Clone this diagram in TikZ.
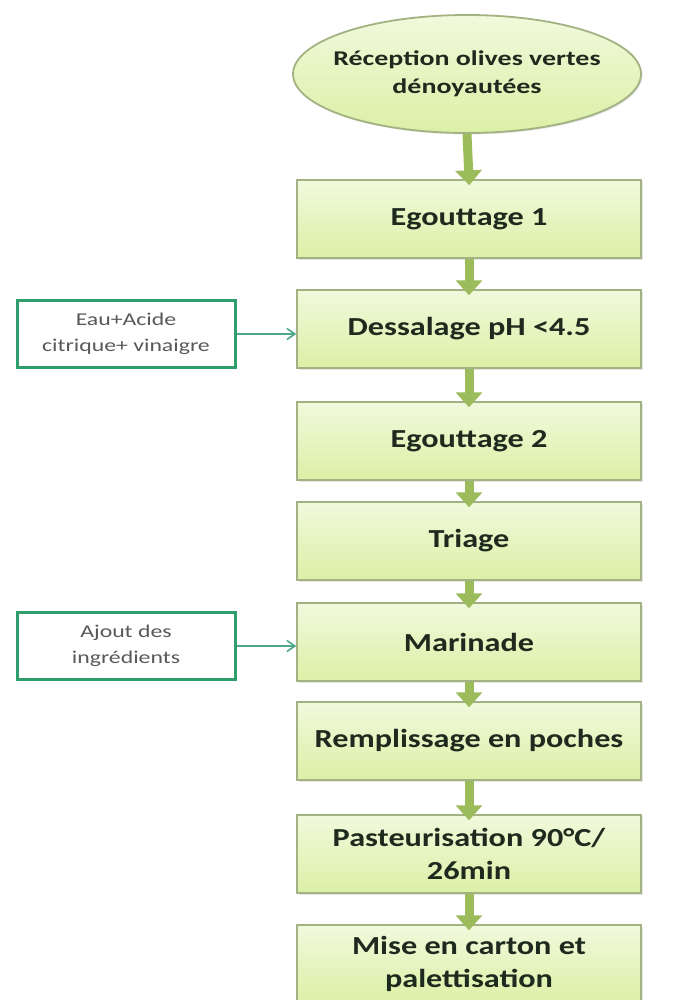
\documentclass[tikz,border=0pt]{standalone}
\usepackage{fontspec}
\setmainfont{Carlito}
\newfontfamily\widefont[FakeStretch=1.24]{Carlito}
\newfontfamily\ellfont[FakeStretch=1.33]{Carlito}
\newfontfamily\sidefont[FakeStretch=1.32]{Carlito}
\usepackage{xcolor}
\usepackage{tikz}
\usetikzlibrary{arrows.meta,positioning,shapes.geometric,shadows}

\definecolor{boxtop}{HTML}{F1F9DC}
\definecolor{boxbot}{HTML}{DBF0A6}
\definecolor{boxline}{HTML}{A3B283}
\definecolor{flowgreen}{HTML}{9CBC5C}
\definecolor{inputline}{HTML}{2F9E6C}
\definecolor{inputarrow}{HTML}{4FA88C}
\definecolor{inktext}{HTML}{1E2A1E}

\tikzset{
  stepbox/.style={draw=boxline, line width=1.4pt, top color=boxtop, bottom color=boxbot,
    minimum width=344pt, minimum height=78pt, align=center, text=inktext,
    font=\widefont\bfseries\fontsize{26}{33}\selectfont,
    drop shadow={opacity=0.2, shadow xshift=1.5pt, shadow yshift=-1.5pt}},
  startell/.style={ellipse, draw=boxline, line width=1.8pt, top color=boxtop, bottom color=boxbot,
    minimum width=348pt, minimum height=118pt, inner xsep=-16pt, inner ysep=0pt,
    align=center, text=inktext,
    font=\ellfont\bfseries\fontsize{21}{28}\selectfont,
    drop shadow={opacity=0.2, shadow xshift=1.5pt, shadow yshift=-1.5pt}},
  inputbox/.style={draw=inputline, line width=3pt, fill=white,
    minimum width=218pt, minimum height=67pt, align=center, text=black!65,
    font=\sidefont\fontsize{18}{26}\selectfont},
  flow/.style={line width=9pt, flowgreen, -{Triangle[width=26pt,length=15pt]}, shorten >=-6pt},
  feed/.style={line width=1.6pt, inputarrow, -{Straight Barb[width=11pt,length=8pt]}}
}

\begin{document}
\begin{tikzpicture}[x=1pt,y=-1pt]
    \useasboundingbox (0,0) rectangle (696,1000);

    % Main chain
    \node[startell] (recep) at (467,74) {Réception olives vertes\\dénoyautées};
    \node[stepbox] (egout1) at (469,219) {Egouttage 1};
    \node[stepbox] (dessal) at (469,329) {Dessalage pH <4.5};
    \node[stepbox] (egout2) at (469,441) {Egouttage 2};
    \node[stepbox] (triage) at (469,541) {Triage};
    \node[stepbox] (marin) at (469,642) {Marinade};
    \node[stepbox] (rempl) at (469,741) {Remplissage en poches};
    \node[stepbox] (pasteur) at (469,854) {Pasteurisation 90°C/\\26min};
    \node[stepbox] (carton) at (469,964) {Mise en carton et\\palettisation};

    % Inputs
    \node[inputbox] (eau) at (126,334) {Eau+Acide\\citrique+ vinaigre};
    \node[inputbox] (ingr) at (126,646) {Ajout des\\ingrédients};

    % Flow arrows
    \draw[flow] (recep.south) -- (egout1.north);
    \draw[flow] (egout1.south) -- (dessal.north);
    \draw[flow] (dessal.south) -- (egout2.north);
    \draw[flow] (egout2.south) -- (triage.north);
    \draw[flow] (triage.south) -- (marin.north);
    \draw[flow] (marin.south) -- (rempl.north);
    \draw[flow] (rempl.south) -- (pasteur.north);
    \draw[flow] (pasteur.south) -- (carton.north);

    % Input arrows
    \draw[feed] (eau.east) -- (eau.east -| dessal.west);
    \draw[feed] (ingr.east) -- (ingr.east -| marin.west);

\end{tikzpicture}
\end{document}
